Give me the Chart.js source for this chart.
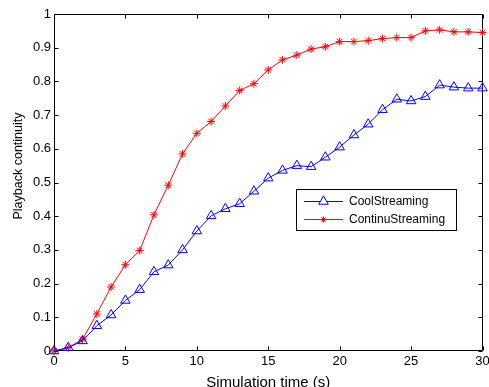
<!DOCTYPE html>
<html>
<head>
<meta charset="utf-8">
<script src="https://cdn.jsdelivr.net/npm/chart.js@4/dist/chart.umd.min.js"></script>
<style>
  html, body { margin: 0; padding: 0; background: #fff; }
  #wrap { width: 489px; height: 387px; }
</style>
</head>
<body>
<div id="wrap"><canvas id="chart" width="489" height="387"></canvas></div>
<script>
// simulation time (s)
const timeSec = [0, 1, 2, 3, 4, 5, 6, 7, 8, 9, 10, 11, 12, 13, 14, 15, 16, 17, 18, 19, 20, 21, 22, 23, 24, 25, 26, 27, 28, 29, 30];

// playback continuity per scheme
const coolStreaming = [0, 0.01, 0.03, 0.075, 0.107, 0.15, 0.182, 0.235, 0.255, 0.30, 0.356, 0.401, 0.422, 0.437, 0.474, 0.513,
    0.536, 0.55, 0.547, 0.575, 0.605, 0.641, 0.673, 0.716, 0.747, 0.742, 0.755, 0.789, 0.783, 0.78, 0.78];
const continuStreaming = [0, 0.01, 0.035, 0.11, 0.19, 0.256, 0.298, 0.404, 0.492, 0.585, 0.646, 0.681, 0.727, 0.773, 0.793, 0.834,
    0.864, 0.878, 0.896, 0.903, 0.918, 0.918, 0.921, 0.927, 0.93, 0.93, 0.95, 0.953, 0.947, 0.947, 0.945];

const seriesNames = ['CoolStreaming', 'ContinuStreaming'];
const xTitle = 'Simulation time (s)';
const yTitle = 'Playback continuity';

const FONT = "'Liberation Sans', Arial, sans-serif";
Chart.defaults.font.family = FONT;
Chart.defaults.color = '#000';

function toPoints(xs, ys) {
    return xs.map((x, i) => ({ x: x, y: ys[i] }));
}

// matlab style box, inward ticks on all four sides, y title and legend
const matlabAxes = {
    id: 'matlabAxes',
    beforeDatasetsDraw(chart) {
        const { ctx, chartArea: a, scales } = chart;
        const L = Math.round(a.left) + 0.5, R = Math.round(a.right) - 0.5;
        const T = Math.round(a.top) + 0.5, B = Math.round(a.bottom) - 0.5;
        const tl = 4;
        ctx.save();
        ctx.strokeStyle = '#000';
        ctx.lineWidth = 1;
        ctx.beginPath();
        ctx.rect(L, T, R - L, B - T);
        scales.x.ticks.forEach(t => {
            const px = Math.round(scales.x.getPixelForValue(t.value)) + 0.5;
            ctx.moveTo(px, B); ctx.lineTo(px, B - tl);
            ctx.moveTo(px, T); ctx.lineTo(px, T + tl);
        });
        scales.y.ticks.forEach(t => {
            const py = Math.round(scales.y.getPixelForValue(t.value)) + 0.5;
            ctx.moveTo(L, py); ctx.lineTo(L + tl, py);
            ctx.moveTo(R, py); ctx.lineTo(R - tl, py);
        });
        ctx.stroke();
        ctx.restore();
    },
    afterDraw(chart) {
        const { ctx } = chart;
        ctx.save();
        // y axis title
        ctx.translate(19, 166);
        ctx.rotate(-Math.PI / 2);
        ctx.font = '12.5px ' + FONT;
        ctx.fillStyle = '#000';
        ctx.textAlign = 'center';
        ctx.textBaseline = 'middle';
        ctx.fillText(yTitle, 0, 0);
        ctx.restore();

        // legend box
        ctx.save();
        ctx.fillStyle = '#fff';
        ctx.strokeStyle = '#000';
        ctx.lineWidth = 1;
        ctx.fillRect(296.5, 189.5, 160, 41);
        ctx.strokeRect(296.5, 189.5, 160, 41);
        const rows = [201.5, 219.5];
        chart.data.datasets.forEach((ds, i) => {
            const y = rows[i];
            ctx.strokeStyle = ds.borderColor;
            ctx.lineWidth = 1;
            ctx.beginPath();
            ctx.moveTo(304, y); ctx.lineTo(343, y);
            ctx.stroke();
            Chart.helpers.drawPoint(ctx, {
                pointStyle: ds.pointStyle,
                radius: i === 0 ? ds.pointRadius : 3,
                borderWidth: 1
            }, 323.5, y);
            ctx.fillStyle = '#000';
            ctx.font = '12px ' + FONT;
            ctx.textAlign = 'left';
            ctx.textBaseline = 'middle';
            ctx.fillText(ds.label, 349, y + 0.5);
        });
        ctx.restore();
    }
};

new Chart(document.getElementById('chart'), {
    type: 'line',
    data: {
        datasets: [
            {
                label: seriesNames[0],
                data: toPoints(timeSec, coolStreaming),
                borderColor: '#0000ff',
                backgroundColor: 'rgba(0,0,0,0)',
                borderWidth: 1,
                pointStyle: 'triangle',
                pointRadius: 5.5,
                pointBorderWidth: 1,
                pointBackgroundColor: 'rgba(0,0,0,0)',
                pointBorderColor: '#0000ff',
                tension: 0,
                clip: false
            },
            {
                label: seriesNames[1],
                data: toPoints(timeSec, continuStreaming),
                borderColor: '#ff0000',
                backgroundColor: 'rgba(0,0,0,0)',
                borderWidth: 1,
                pointStyle: 'star',
                pointRadius: 4,
                pointBorderWidth: 1,
                pointBackgroundColor: '#ff0000',
                pointBorderColor: '#ff0000',
                tension: 0,
                clip: false
            }
        ]
    },
    options: {
        responsive: false,
        animation: false,
        devicePixelRatio: 1,
        layout: { padding: { left: 0, right: 5, top: 14, bottom: 0 } },
        plugins: {
            legend: { display: false },
            tooltip: { enabled: false }
        },
        scales: {
            x: {
                type: 'linear',
                min: 0,
                max: 30,
                grid: { display: false, drawTicks: false },
                border: { display: false },
                ticks: { stepSize: 5, padding: 3, font: { size: 13 }, color: '#000', maxRotation: 0 },
                title: { display: true, text: xTitle, font: { size: 15, lineHeight: 0.6 }, padding: 0, color: '#000' },
                afterFit(scale) { scale.height = 36; scale.paddingLeft = 0; scale.paddingRight = 0; }
            },
            y: {
                min: 0,
                max: 1,
                grid: { display: false, drawTicks: false },
                border: { display: false },
                ticks: {
                    stepSize: 0.1,
                    padding: 3,
                    font: { size: 13 },
                    color: '#000',
                    callback: v => String(Number(v.toFixed(1)))
                },
                afterFit(scale) { scale.width = 54; scale.paddingTop = 0; scale.paddingBottom = 0; }
            }
        }
    },
    plugins: [matlabAxes]
});
</script>
</body>
</html>
